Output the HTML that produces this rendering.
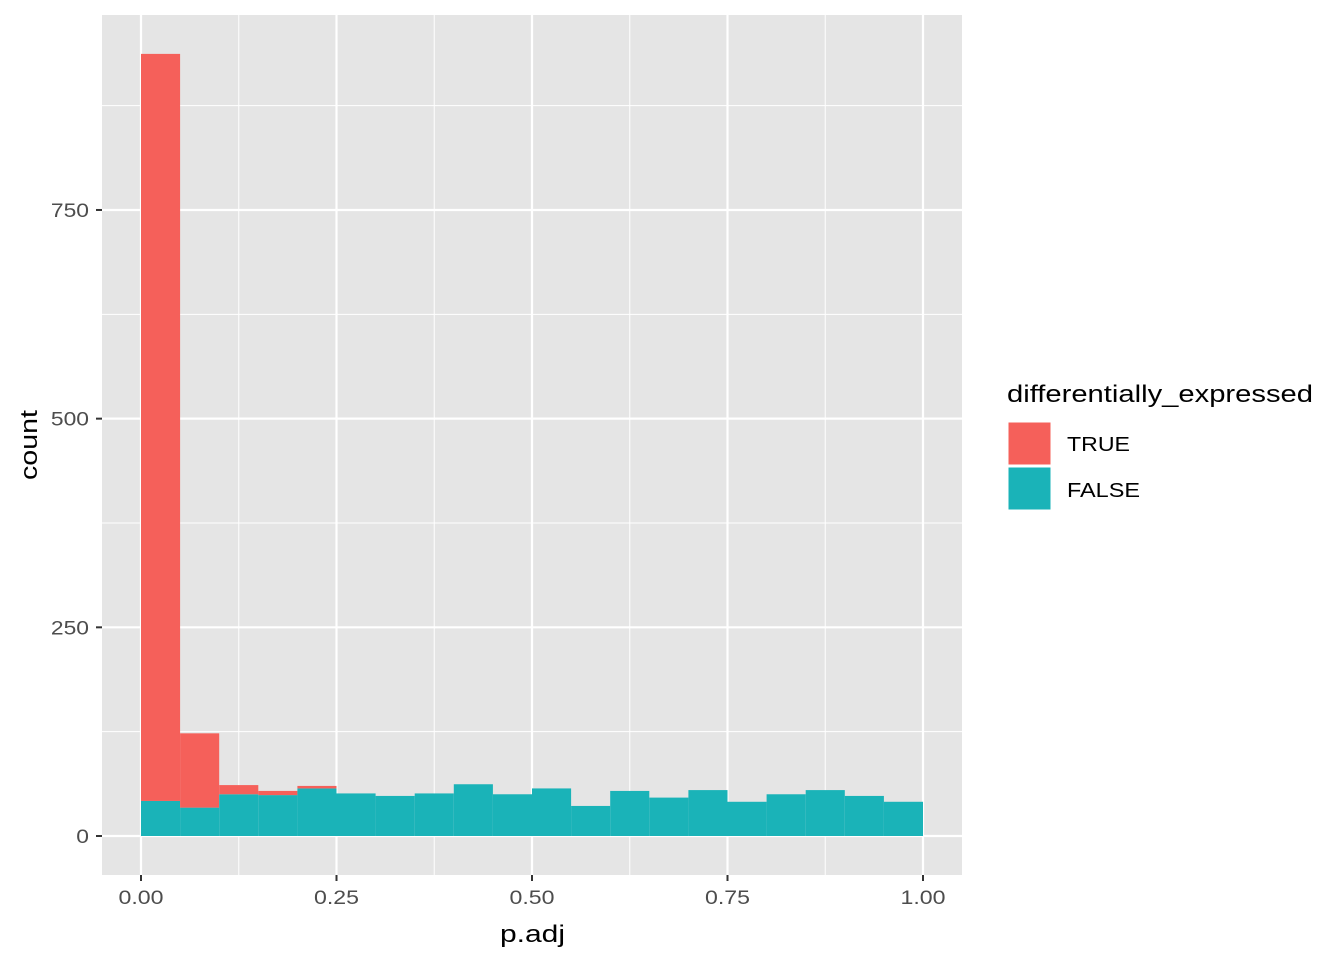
<!DOCTYPE html>
<html><head><meta charset="utf-8"><style>
body{margin:0;background:#fff;}
svg text{font-family:"Liberation Sans",Arial,sans-serif;}
</style></head><body>
<svg id="chart" width="1344" height="960" xmlns="http://www.w3.org/2000/svg">
<rect x="102" y="15" width="860" height="860" fill="#e5e5e5"/>
<g id="grid"></g>
<g id="bars"></g>
<g id="axes"></g>
<text x="500" y="942" font-size="24" textLength="65" lengthAdjust="spacingAndGlyphs" fill="#000">p.adj</text>
<text transform="translate(37,480) rotate(-90)" font-size="24" textLength="70" lengthAdjust="spacingAndGlyphs" fill="#000">count</text>
<g>
<text x="1007" y="402" font-size="24" textLength="306" lengthAdjust="spacingAndGlyphs" fill="#000">differentially_expressed</text>
<g>
<rect x="1008" y="422" width="43" height="43" fill="#f5605a" stroke="#fff" stroke-width="1"/>
<text x="1067" y="451" font-size="20" textLength="63" lengthAdjust="spacingAndGlyphs" fill="#000">TRUE</text></g>
<g>
<rect x="1008" y="467" width="43" height="43" fill="#1ab3b8" stroke="#fff" stroke-width="1"/>
<text x="1067" y="497" font-size="20" textLength="73" lengthAdjust="spacingAndGlyphs" fill="#000">FALSE</text></g>
</g>
</svg>
<script>
const binStarts=[0,0.05,0.1,0.15,0.2,0.25,0.3,0.35,0.4,0.45,0.5,0.55,0.6,0.65,0.7,0.75,0.8,0.85,0.9,0.95];
const falseCounts=[42,34,50,49,57,51,48,51,62,50,57,36,54,46,55,41,50,55,48,41];
const trueCounts=[895,89,11,5,3,0,0,0,0,0,0,0,0,0,0,0,0,0,0,0];
const xTicks=[0,0.25,0.5,0.75,1];
const xTickLabels=["0.00","0.25","0.50","0.75","1.00"];
const yTicks=[0,250,500,750];
const yTickLabels=["0","250","500","750"];
const binWidth=0.05;
const NS="http://www.w3.org/2000/svg";
const X=v=>141+v*782;
const Y=v=>836-v*0.8347;
function mk(tag,attrs,parent){const e=document.createElementNS(NS,tag);for(const k in attrs)e.setAttribute(k,attrs[k]);parent.appendChild(e);return e;}
const grid=document.getElementById('grid'),bars=document.getElementById('bars'),axes=document.getElementById('axes');
for(let i=0;i<xTicks.length-1;i++){const v=(xTicks[i]+xTicks[i+1])/2;const l=mk('line',{x1:X(v),x2:X(v),y1:15,y2:875,stroke:'#fff','stroke-width':1},grid);

}
for(let i=0;i<yTicks.length;i++){const v=yTicks[i]+125;const l=mk('line',{x1:102,x2:962,y1:Y(v),y2:Y(v),stroke:'#fff','stroke-width':1},grid);

}
xTicks.forEach((v,i)=>{const l=mk('line',{x1:X(v),x2:X(v),y1:15,y2:875,stroke:'#fff','stroke-width':2.2},grid);


const t=mk('line',{x1:X(v),x2:X(v),y1:875,y2:881,stroke:'#333','stroke-width':2},axes);


const tx=mk('text',{x:X(v),y:904,'font-size':19,'text-anchor':'middle',textLength:45,lengthAdjust:'spacingAndGlyphs',fill:'#4d4d4d'},axes);tx.textContent=xTickLabels[i];

});
yTicks.forEach((v,i)=>{const l=mk('line',{x1:102,x2:962,y1:Y(v),y2:Y(v),stroke:'#fff','stroke-width':2.2},grid);


const t=mk('line',{x1:96,x2:102,y1:Y(v),y2:Y(v),stroke:'#333','stroke-width':2},axes);


const tx=mk('text',{x:89,y:Y(v)+7,'font-size':19,'text-anchor':'end',textLength:yTickLabels[i].length*12.7,lengthAdjust:'spacingAndGlyphs',fill:'#4d4d4d'},axes);tx.textContent=yTickLabels[i];

});
binStarts.forEach((b,i)=>{const x0=X(b),w=X(b+binWidth)-x0;
const f=mk('rect',{x:x0,y:Y(falseCounts[i]),width:w,height:Y(0)-Y(falseCounts[i]),fill:'#1ab3b8'},bars);


if(trueCounts[i]>0){const tot=falseCounts[i]+trueCounts[i];
const r=mk('rect',{x:x0,y:Y(tot),width:w,height:Y(falseCounts[i])-Y(tot),fill:'#f5605a'},bars);

}});
</script>
</body></html>
